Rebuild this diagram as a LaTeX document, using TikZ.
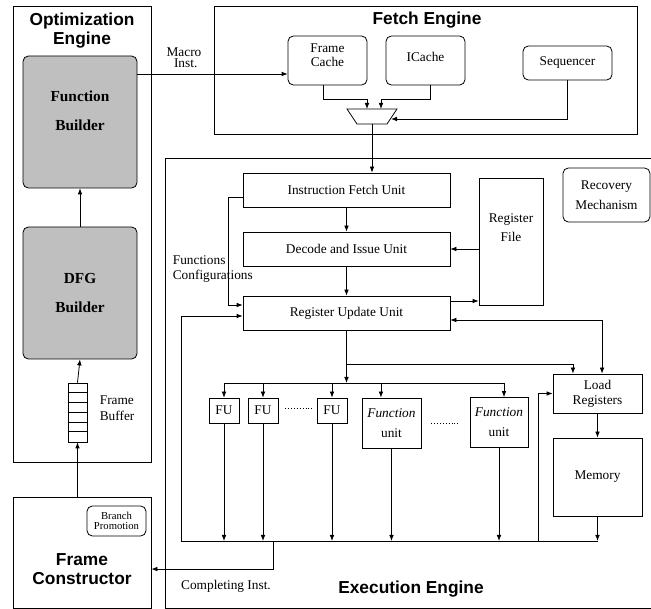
\documentclass[tikz,border=0pt]{standalone}
\usepackage{fontspec}
\setmainfont{Liberation Serif}
\setsansfont{Liberation Sans}
\usetikzlibrary{arrows.meta}
\begin{document}
\begin{tikzpicture}[x=0.75pt,y=-0.75pt,>={Latex[length=4.5pt,width=3.5pt]},line width=0.6pt,
	font=\fontsize{10}{11}\selectfont,
	box/.style={draw,inner sep=0pt,align=center},
	rbox/.style={box,rounded corners=4pt},
	engine/.style={font=\fontsize{13}{14.5}\selectfont\sffamily\bfseries,align=center},
	builder/.style={rbox,fill=gray!50,minimum width=85.5pt,minimum height=99pt,font=\fontsize{11.5}{21.75}\selectfont\bfseries}]
	\useasboundingbox (0,0) rectangle (651,609);
	% cac khoi lon
	\node[box,minimum width=103.5pt,minimum height=342pt] (optE) at (82,234) {};
	\node[box,minimum width=103.5pt,minimum height=83.25pt] (FC) at (82,552.5) {};
	\node[box,minimum width=317.25pt,minimum height=96pt] (fetchE) at (425.5,70) {};
	\node[box,minimum width=367.5pt,minimum height=337.5pt] (execE) at (410,383) {};
	\node[engine] (optT) at (82,30.5) {Optimization\\Engine};
	\node[engine] (fcT) at (82,569) {Frame\\Constructor};
	\node[engine] (fetchT) at (427,20) {Fetch Engine};
	\node[engine] (execT) at (411,589) {Execution Engine};
	% optimization engine
	\node[builder,label={[yshift=8.6pt,align=center,font=\fontsize{11.5}{21.75}\selectfont\bfseries]center:Function\\Builder}] (FB) at (80,122) {};
	\node[builder] (DFG) at (80,293) {DFG\\Builder};
	\node[box,minimum width=14.25pt,minimum height=44.25pt] (buf) at (77.5,412.5) {};
	\foreach \k in {1,...,5}
	\draw ([yshift=-\k*7.375pt]buf.north west) -- ([yshift=-\k*7.375pt]buf.north east);
	\node[anchor=west,align=left,font=\fontsize{10}{12}\selectfont] (bufT) at (95,408) {Frame\\Buffer};
	\draw[->] (buf.north) -- (DFG.south);
	\draw[->] (DFG.north) -- (FB.south);
	\draw[->] (FC.north -| buf) -- (buf.south);
	\node[rbox,minimum width=44.25pt,minimum height=22.5pt,font=\fontsize{8}{8}\selectfont] (BP) at (116.5,521) {Branch\\Promotion};
	% fetch engine
	\node[rbox,minimum width=59.25pt,minimum height=36.75pt,label={[yshift=4pt,align=center]center:Frame\\Cache}] (FCache) at (327.5,60.5) {};
	\node[rbox,minimum width=59.25pt,minimum height=36.75pt,label={[yshift=2.6pt]center:ICache}] (ICache) at (425.5,60.5) {};
	\node[rbox,minimum width=66.75pt,minimum height=25.5pt] (Seq) at (567.5,63) {Sequencer};
	\path (347,109) coordinate (m1) (397,109) coordinate (m2)
	(387,124) coordinate (m3) (357,124) coordinate (m4)
	(367,109) coordinate (muxA) (381,109) coordinate (muxB)
	(391,119) coordinate (muxC) (372,124) coordinate (muxO)
	(0,74) coordinate (macro);
	\draw (m1) -- (m2) -- (m3) -- (m4) -- cycle;
	\draw[->] ([xshift=-3.4pt]FCache.south) -- ++(0,14) -| (muxA);
	\draw[->] ([xshift=3.4pt]ICache.south) -- ++(0,14) -| (muxB);
	\draw[->] (Seq.south) |- (muxC);
	\draw[->] (FB.east |- macro) -- (FCache.west |- macro);
	\node[align=center,font=\fontsize{10}{8.5}\selectfont] (macroT) at (184,57.5) {Macro\\\ Inst.};
	% execution engine
	\node[box,minimum width=155.25pt,minimum height=25.5pt] (IFU) at (346.5,190) {Instruction Fetch Unit};
	\node[box,minimum width=155.25pt,minimum height=25.5pt] (DIU) at (346.5,249) {Decode and Issue Unit};
	\node[box,minimum width=155.25pt,minimum height=25.5pt] (RUU) at (346.5,313) {Register Update Unit};
	\node[box,minimum width=48pt,minimum height=95.25pt,label={[yshift=10.5pt,align=center,font=\fontsize{10}{14}\selectfont]center:Register\\File}] (RF) at (511,241.5) {};
	\node[rbox,minimum width=65.25pt,minimum height=40.5pt,font=\fontsize{10}{15}\selectfont] (Rec) at (606.5,195) {Recovery\\Mechanism};
	\draw[->] (muxO) -- (muxO |- IFU.north);
	\draw[->] (IFU) -- (DIU);
	\draw[->] (DIU) -- (RUU);
	\draw[->] (RF.west |- DIU) -- (DIU.east);
	\draw[->] ([yshift=9pt]RUU.east) -- ([yshift=9pt]RUU.east -| RF.west);
	\draw[->] ([yshift=-5.25pt]IFU.west) -- ++(-14,0) |- ([yshift=6pt]RUU.west);
	\node[anchor=west,align=left,font=\fontsize{10}{11.25}\selectfont] (cfgT) at (168,269.5) {Functions\\Configurations};
	% cac don vi chuc nang
	\node[box,minimum width=22.5pt,minimum height=18.75pt] (FUa) at (224,410.5) {FU};
	\node[box,minimum width=22.5pt,minimum height=18.75pt] (FUb) at (263,410.5) {FU};
	\node[box,minimum width=22.5pt,minimum height=18.75pt] (FUc) at (332,410.5) {FU};
	\node[box,minimum width=44.25pt,minimum height=37.5pt,font=\fontsize{10}{15}\selectfont] (Fna) at (391.5,423) {\textit{Function}\\unit};
	\node[box,minimum width=43.5pt,minimum height=37.5pt,font=\fontsize{10}{15}\selectfont] (Fnb) at (499,422.5) {\textit{Function}\\unit};
	\draw[dash pattern=on 0.6pt off 1.6pt] (285,408) -- (313,408);
	\draw[dash pattern=on 0.6pt off 1.6pt] (431,423) -- (460,423);
	\node[box,minimum width=66.75pt,minimum height=29.25pt,font=\fontsize{10}{11.25}\selectfont] (LR) at (597.5,393.5) {Load\\Registers};
	\node[box,minimum width=66.75pt,minimum height=58.5pt] (Mem) at (597.5,477) {Memory};
	\path (346.5,364) coordinate (split)
	(224,383) coordinate (fubusL) (504,383) coordinate (fubusR)
	(181,541) coordinate (busL) (597.5,541) coordinate (busR)
	(273,541) coordinate (done) (538,541) coordinate (lrIn);
	\draw[->] (RUU.south) -- (RUU.south |- fubusL);
	\draw[->] (split) -| ([xshift=-18.4pt]LR.north);
	\draw[<->] ([yshift=-5.25pt]RUU.east) -| ([xshift=3.4pt]LR.north);
	\draw (fubusL) -- (fubusR);
	\draw[->] (fubusL) -- (FUa.north);
	\draw[->] (FUb.north |- fubusL) -- (FUb.north);
	\draw[->] (FUc.north |- fubusL) -- (FUc.north);
	\draw[->] ([xshift=-7.9pt]Fna.north |- fubusL) -- ([xshift=-7.9pt]Fna.north);
	\draw[->] (fubusR) -- (fubusR |- Fnb.north);
	\draw[->] (LR) -- (Mem);
	% bus ket qua
	\draw (busL) -- (busR);
	\foreach \u in {FUa,FUb,FUc,Fna,Fnb,Mem}
	\draw[->] (\u.south) -- (\u.south |- busL);
	\draw[->] (busL) |- ([yshift=-2.25pt]RUU.west);
	\draw[->] (lrIn) |- (LR.west);
	\draw[->] (done) |- ([yshift=-12.4pt]FC.east);
	\node[font=\fontsize{10}{11}\selectfont] (doneT) at (226,586) {Completing Inst.};
\end{tikzpicture}
\end{document}
